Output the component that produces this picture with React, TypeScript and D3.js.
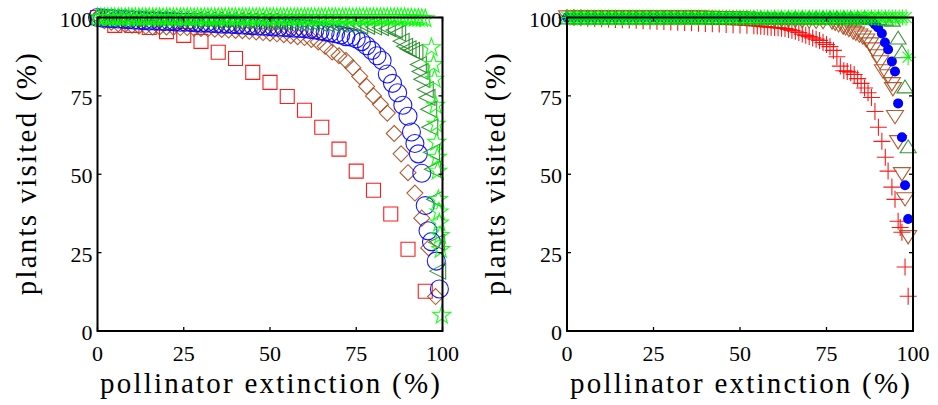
import React from 'react';
import * as d3 from 'd3';

const W = 938;
const H = 405;

// ---------- left panel ----------
const squareX = [0, 5, 10, 15, 20, 25, 30, 35, 40, 45, 50, 55, 60, 65, 70, 75, 80, 85, 90, 95];
const squareY = [100, 97.5, 97.5, 96.8, 95.5, 94.3, 92.4, 88.9, 86.9, 82.5, 79.3, 74.8, 70.4, 65, 58, 51, 44.9, 37.3, 26.1, 12.7];

const diamondX = [0, 2, 4, 6, 8, 10, 12, 14, 16, 18, 20, 22, 24, 26, 28, 30, 32, 34, 36, 38, 40, 42, 44, 46, 48,
  50, 52, 54, 56, 58, 60, 62, 64, 66, 68, 70, 72, 74, 76, 78, 80, 82, 84, 86, 88, 90, 92, 94, 96, 98];
const diamondY = [100, 99, 98.5, 98, 97.8, 97.5, 97.3, 97.2, 97, 97, 97, 96.9, 96.8, 96.8, 96.6, 96.5, 96.4, 96.3, 96.2, 96,
  95.9, 95.8, 95.6, 95.4, 95.2, 95, 94.8, 94.5, 94.2, 93.9, 93.6, 93, 92.2, 90.8, 89, 87.8, 86.3, 84, 81.2, 78,
  75, 72.3, 69.5, 63, 56.5, 50.5, 44, 36, 26.5, 11];

const circleX = [0, 1.5, 3, 4.5, 6, 7.5, 9, 10.5, 12, 13.5, 15, 16.5, 18, 19.5, 21, 22.5, 24, 25.5, 27, 28.5, 30, 31.5,
  33, 34.5, 36, 37.5, 39, 40.5, 42, 43.5, 45, 46.5, 48, 49.5, 51, 52.5, 54, 55.5, 57, 58.5, 60, 61.5, 63, 64.5, 66,
  67.5, 69, 70.5, 72, 73.5, 75, 76.5, 78, 79.5, 81, 82.5, 84, 85.5, 87, 88.5, 90, 91, 92, 93, 94, 95, 95.8, 96.8, 98.2, 99.1];
const circleY = [100, 99.8, 99.7, 99.6, 99.5, 99.4, 99.3, 99.2, 99.1, 99, 98.9, 98.9, 98.8, 98.7, 98.7, 98.6, 98.5, 98.5,
  98.4, 98.3, 98.2, 98.2, 98.1, 98, 97.9, 97.9, 97.8, 97.7, 97.6, 97.5, 97.4, 97.3, 97.2, 97.1, 97, 96.9, 96.8, 96.7,
  96.6, 96.5, 96.4, 96.2, 96, 95.7, 95.4, 95.1, 94.8, 94.4, 93.9, 93.7, 93.2, 92.3, 91, 89.5, 87.8, 86.3, 82, 79, 76,
  72, 68.5, 63.5, 59.8, 56.5, 50.3, 40, 32, 28.5, 22.3, 13.4];

const triLeftX = [0, 2, 4, 6, 8, 10, 12, 14, 16, 18, 20, 22, 24, 26, 28, 30, 32, 34, 36, 38, 40, 42, 44, 46, 48, 50, 52,
  54, 56, 58, 60, 62, 64, 66, 68, 70, 72, 74, 76, 78, 80, 82, 84, 86, 87, 88, 89, 90, 91, 92, 93, 93.5, 94, 95, 95.5,
  96, 96.3, 96.8, 97.1, 97.7, 98.3, 98.6];
const triLeftY = [100, 100, 99.9, 99.9, 99.8, 99.8, 99.7, 99.7, 99.6, 99.6, 99.5, 99.5, 99.4, 99.4, 99.3, 99.3, 99.2,
  99.2, 99.1, 99.1, 99, 99, 98.9, 98.9, 98.8, 98.8, 98.7, 98.7, 98.6, 98.5, 98.4, 98.3, 98.2, 98.1, 98, 97.9, 97.8,
  97.6, 97.4, 97.2, 97, 96.8, 96.5, 96, 95, 92.4, 90.8, 90, 89.5, 88.9, 85, 82.8, 80.3, 77, 74.5, 70.7, 65, 57, 51.6,
  42, 28.3, 19.1];

const starX = [0, 1, 2, 3, 4, 5, 6, 7, 8, 9, 10, 11, 12, 13, 14, 15, 16, 17, 18, 19, 20, 21, 22, 23, 24, 25, 26, 27, 28,
  29, 30, 31, 32, 33, 34, 35, 36, 37, 38, 39, 40, 41, 42, 43, 44, 45, 46, 47, 48, 49, 50, 51, 52, 53, 54, 55, 56, 57,
  58, 59, 60, 61, 62, 63, 64, 65, 66, 67, 68, 69, 70, 71, 72, 73, 74, 75, 76, 77, 78, 79, 80, 81, 82, 83, 84, 85, 86,
  87, 88, 89, 90, 91, 92, 93, 94, 95, 96.8, 97.4, 97.7, 98, 98.2, 98.3, 98.5, 98.6, 98.8, 99, 99.1, 99.3, 99.5, 99.8];
const starY = [100, 100, 100, 100, 100, 100, 100, 100, 100, 100, 100, 100, 100, 100, 100, 100, 100, 100, 100, 100,
  100, 100, 100, 100, 100, 100, 100, 100, 100, 100, 100, 100, 100, 100, 100, 100, 100, 100, 100, 100,
  100, 100, 100, 100, 100, 100, 100, 100, 100, 100, 100, 100, 100, 100, 100, 100, 100, 100, 100, 100,
  100, 100, 100, 100, 100, 100, 100, 100, 100, 100, 100, 100, 100, 100, 100, 100, 100, 100, 100, 100,
  100, 100, 100, 100, 100, 100, 100, 100, 100, 100, 99.9, 99.9, 99.8, 99.8, 99.7, 99.6,
  90.4, 85, 80.3, 72, 66, 60.2, 55.4, 51, 42, 38, 34.5, 30.5, 26, 5];

// ---------- right panel ----------
const plusX = [0, 2, 4, 6, 8, 10, 12, 14, 16, 18, 20, 22, 24, 26, 28, 30, 32, 34, 36, 38, 40, 42, 44, 46, 48, 50, 52, 54,
  55, 56, 57, 58, 59, 60, 61, 62, 63, 64, 65, 66, 67, 68, 69, 70, 71, 72, 73, 74, 75, 76, 77, 78, 79, 80, 81, 82, 83,
  84, 85, 86, 87, 88, 89, 90, 91, 92, 92.8, 93.9, 94.8, 95.7, 96.3, 96.8, 97.7, 98.6];
const plusY = [100, 100, 99.9, 99.8, 99.7, 99.6, 99.5, 99.4, 99.3, 99.2, 99.1, 99, 98.9, 98.8, 98.7, 98.6, 98.5, 98.4,
  98.3, 98.2, 98.1, 98, 97.9, 97.8, 97.7, 97.6, 97.5, 97.4,
  97.3, 97.2, 97.1, 97, 96.9, 96.8, 96.7, 96.6, 96.5, 96.2, 95.9, 95.6, 95.2, 94.7, 94.3, 93.9, 93.5, 93.1, 92.7, 92,
  91.4, 90.7, 89.5, 87.5, 84.5, 83, 82.8, 82.4, 81.8, 80.5, 79, 77.5, 76, 74.5,
  70, 65, 60.5, 55.4, 51, 45.9, 42, 35, 33, 31.5, 20.4, 11.1];

const triDownX = [0, 2, 4, 6, 8, 10, 12, 14, 16, 18, 20, 22, 24, 26, 28, 30, 32, 34, 36, 38, 40, 42, 44, 46, 48, 50, 52,
  54, 56, 58, 60, 62, 64, 66, 68, 70, 72, 74, 76.6, 77.5, 78.5, 79.8, 80.5, 81.5, 82.7, 83.5, 84.5, 85.5, 86.5, 87.6,
  88.4, 89.6, 90.5, 91.3, 92.8, 93.9, 94.2, 94.8, 95.7, 96.8, 97.7, 98.6];
const triDownY = [100, 100, 100, 100, 100, 100, 100, 100, 100, 100, 100, 100, 100, 100, 100, 100, 100, 100, 100, 100,
  99.9, 99.9, 99.8, 99.8, 99.7, 99.7, 99.6, 99.5, 99.4, 99.3, 99.2, 99.1, 99, 98.9, 98.8, 98.7, 98.6, 98.5,
  98.4, 98, 97.5, 96.8, 96.5, 96, 95.2, 94.8, 94.2, 93.6, 92.6, 91.4, 89.8, 87.6, 85.7, 82.8, 81.2, 78.7, 77.1, 68.2,
  60.2, 50, 42, 29.9];

const dotX = [0, 2, 4, 6, 8, 10, 12, 14, 16, 18, 20, 22, 24, 26, 28, 30, 32, 34, 36, 38, 40, 42, 44, 46, 48, 50, 52, 54,
  56, 58, 60, 62, 64, 66, 68, 70, 72, 74, 76, 78, 80, 82, 84, 86, 88, 89, 89.9, 91, 91.9, 92.8, 93.9, 94.8, 95.7, 96.8,
  97.7, 98.6];
const dotY = [100, 100, 100, 100, 100, 100, 100, 100, 100, 100, 100, 100, 100, 100, 100, 100, 100, 100, 100, 100,
  100, 100, 100, 100, 100, 100, 100, 100, 100, 100, 100, 100, 100, 100, 100, 100, 100, 100, 100, 100,
  99.9, 99.8, 99.6, 99.3, 98.8, 97.8, 96.8, 94.9, 92, 89.8, 86, 82.8, 72.6, 61.8, 46.5, 35.7];

const triUpX = [0, 2, 4, 6, 8, 10, 12, 14, 16, 18, 20, 22, 24, 26, 28, 30, 32, 34, 36, 38, 40, 42, 44, 46, 48, 50, 52, 54,
  56, 58, 60, 62, 64, 66, 68, 70, 72, 74, 76, 78, 80, 82, 84, 86, 88, 90, 92, 94, 95.7, 96.8, 97.7, 98.6];
const triUpY = [100, 100, 100, 100, 100, 100, 100, 100, 100, 100, 100, 100, 100, 100, 100, 100, 100, 100, 100, 100,
  100, 100, 100, 100, 100, 100, 100, 100, 100, 100, 100, 100, 100, 100, 100, 100, 100, 100, 100, 100,
  100, 100, 100, 100, 99.9, 99.8, 99.6, 99.3, 93.6, 89.2, 78, 58.9];

const asteriskX = [0, 1, 2, 3, 4, 5, 6, 7, 8, 9, 10, 11, 12, 13, 14, 15, 16, 17, 18, 19, 20, 21, 22, 23, 24, 25, 26, 27,
  28, 29, 30, 31, 32, 33, 34, 35, 36, 37, 38, 39, 40, 41, 42, 43, 44, 45, 46, 47, 48, 49, 50, 51, 52, 53, 54, 55, 56,
  57, 58, 59, 60, 61, 62, 63, 64, 65, 66, 67, 68, 69, 70, 71, 72, 73, 74, 75, 76, 77, 78, 79, 80, 81, 82, 83, 84, 85,
  86, 87, 88, 89, 90, 91, 92, 93, 94, 95, 96, 97, 98, 98.6];
const asteriskY = [100, 100, 100, 100, 100, 100, 100, 100, 100, 100, 100, 100, 100, 100, 100, 100, 100, 100, 100, 100,
  100, 100, 100, 100, 100, 100, 100, 100, 100, 100, 100, 100, 100, 100, 100, 100, 100, 100, 100, 100,
  100, 100, 100, 100, 100, 100, 100, 100, 100, 100, 100, 100, 100, 100, 100, 100, 100, 100, 100, 100,
  100, 100, 100, 100, 100, 100, 100, 100, 100, 100, 100, 100, 100, 100, 100, 100, 100, 100, 100, 100,
  100, 100, 100, 100, 100, 100, 100, 100, 100, 100, 100, 100, 100, 100, 100, 100, 100, 100, 100, 87.3];

const tickValues = [0, 25, 50, 75, 100];
const tickLabels = ['0', '25', '50', '75', '100'];
const xTitle = 'pollinator extinction (%)';
const yTitle = 'plants visited (%)';

const RED = '#ff0000';
const BROWN = '#a84b1e';
const BLUE = '#0000ff';
const DKGREEN = '#228b22';
const GREEN = '#00ff00';

// marker outlines, centred on 0,0
function markerPath(kind: string, s: number) {
  const p = d3.path();
  if (kind === 'square') {
    p.rect(-s, -s, 2 * s, 2 * s);
  } else if (kind === 'diamond') {
    p.moveTo(0, -s); p.lineTo(s, 0); p.lineTo(0, s); p.lineTo(-s, 0); p.closePath();
  } else if (kind === 'triLeft') {
    p.moveTo(-s, 0); p.lineTo(s, -s); p.lineTo(s, s); p.closePath();
  } else if (kind === 'star') {
    for (let i = 0; i < 10; i++) {
      const r = i % 2 === 0 ? s : s * 0.4;
      const a = -Math.PI / 2 + (i * Math.PI) / 5;
      if (i === 0) p.moveTo(r * Math.cos(a), r * Math.sin(a));
      else p.lineTo(r * Math.cos(a), r * Math.sin(a));
    }
    p.closePath();
  } else if (kind === 'plus') {
    p.moveTo(-s, 0); p.lineTo(s, 0); p.moveTo(0, -s); p.lineTo(0, s);
  } else if (kind === 'triDown') {
    p.moveTo(-s, -s * 0.78); p.lineTo(s, -s * 0.78); p.lineTo(0, s * 0.78); p.closePath();
  } else if (kind === 'triUp') {
    p.moveTo(-s, s * 0.8); p.lineTo(s, s * 0.8); p.lineTo(0, -s * 0.8); p.closePath();
  } else if (kind === 'asterisk') {
    const d = s * 0.707;
    p.moveTo(-s, 0); p.lineTo(s, 0); p.moveTo(0, -s); p.lineTo(0, s);
    p.moveTo(-d, -d); p.lineTo(d, d); p.moveTo(-d, d); p.lineTo(d, -d);
  } else if (kind === 'circle' || kind === 'dot') {
    p.arc(0, 0, s, 0, 2 * Math.PI);
  }
  return p.toString();
}

type Series = { xs: number[]; ys: number[]; kind: string; color: string; size: number; filled?: boolean };

const leftSeries: Series[] = [
  { xs: squareX, ys: squareY, kind: 'square', color: RED, size: 7 },
  { xs: diamondX, ys: diamondY, kind: 'diamond', color: BROWN, size: 8 },
  { xs: circleX, ys: circleY, kind: 'circle', color: BLUE, size: 9 },
  { xs: triLeftX, ys: triLeftY, kind: 'triLeft', color: DKGREEN, size: 8 },
  { xs: starX, ys: starY, kind: 'star', color: GREEN, size: 9.5 },
];

const rightSeries: Series[] = [
  { xs: plusX, ys: plusY, kind: 'plus', color: RED, size: 8.5 },
  { xs: triDownX, ys: triDownY, kind: 'triDown', color: BROWN, size: 8.5 },
  { xs: dotX, ys: dotY, kind: 'dot', color: BLUE, size: 5, filled: true },
  { xs: triUpX, ys: triUpY, kind: 'triUp', color: DKGREEN, size: 8 },
  { xs: asteriskX, ys: asteriskY, kind: 'asterisk', color: GREEN, size: 8 },
];

// Liberation Serif is not picked up in the sandbox, DejaVu Serif is the fallback
const serif = { fontFamily: "'Liberation Serif', 'DejaVu Serif', serif" };

function Panel({ left, right, series }: { left: number; right: number; series: Series[] }) {
  const x = d3.scaleLinear().domain([0, 100]).range([left, right]);
  const y = d3.scaleLinear().domain([0, 100]).range([331, 17.5]);
  const [x0, x1] = x.range();
  const [y0, y1] = y.range();
  const tl = 4;
  const cx = (x0 + x1) / 2;
  const cy = (y0 + y1) / 2;
  return (
    <g>
      {series.map((s, si) => (
        <g key={si}>
          {s.xs.map((xv, i) => (
            <path
              key={i}
              d={markerPath(s.kind, s.size)}
              transform={`translate(${x(xv)},${y(s.ys[i])})`}
              fill={s.filled ? s.color : 'none'}
              stroke={s.filled ? 'none' : s.color}
              strokeWidth={1.1}
              strokeOpacity={0.9}
            />
          ))}
        </g>
      ))}
      <rect x={x0} y={y1} width={x1 - x0} height={y0 - y1} fill="none" stroke="#000" strokeWidth={2} />
      {tickValues.map((t) => (
        <g key={t} stroke="#000" strokeWidth={1.3}>
          <line x1={x(t)} x2={x(t)} y1={y0} y2={y0 - tl} />
          <line x1={x(t)} x2={x(t)} y1={y1} y2={y1 + tl} />
          <line x1={x0} x2={x0 + tl} y1={y(t)} y2={y(t)} />
          <line x1={x1} x2={x1 - tl} y1={y(t)} y2={y(t)} />
        </g>
      ))}
      <g style={{ ...serif, fontSize: 22 }} fill="#000">
        {tickValues.map((t, i) => (
          <text key={'x' + t} x={x(t)} y={361} textAnchor="middle">{tickLabels[i]}</text>
        ))}
        {tickValues.map((t, i) => (
          <text key={'y' + t} x={x0 - 5} y={y(t) + 9} textAnchor="end">{tickLabels[i]}</text>
        ))}
      </g>
      <text x={cx} y={393} textAnchor="middle" style={{ ...serif, fontSize: 29 }}
        textLength={340} lengthAdjust="spacing">{xTitle}</text>
      <text transform={`translate(${x0 - 62},${cy}) rotate(-90)`} textAnchor="middle"
        style={{ ...serif, fontSize: 29 }} textLength={242} lengthAdjust="spacing">{yTitle}</text>
    </g>
  );
}

export default function App() {
  return (
    <svg width={W} height={H} style={{ position: 'absolute', left: 0, top: 0, background: '#fff' }}>
      <Panel left={97.5} right={442.5} series={leftSeries} />
      <Panel left={567} right={913} series={rightSeries} />
    </svg>
  );
}
